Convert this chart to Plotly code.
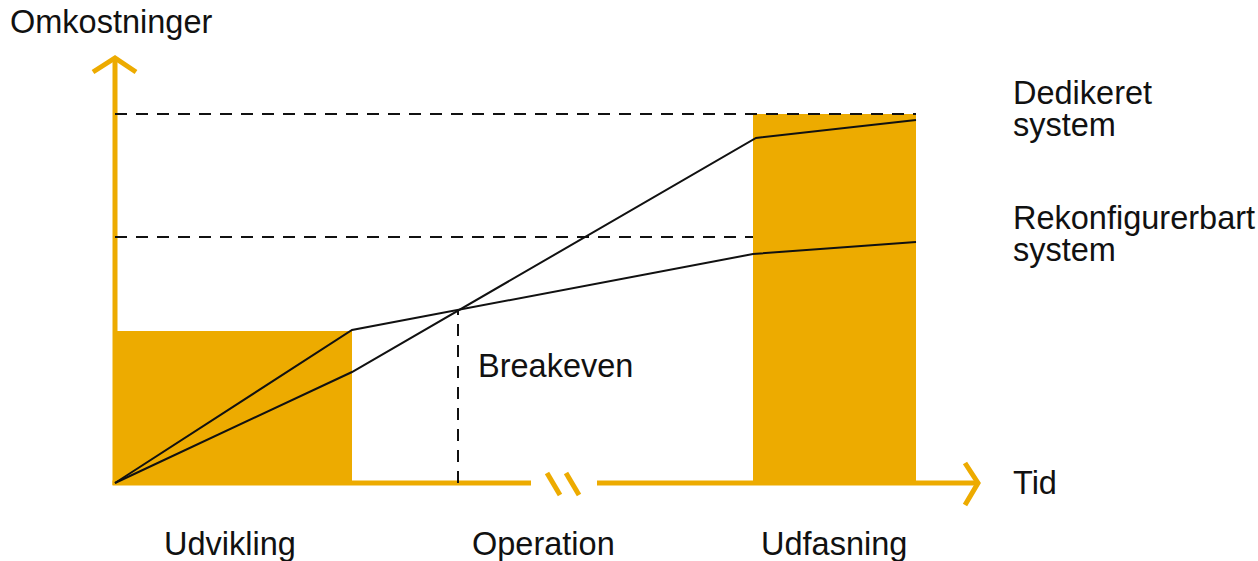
import numpy as np
import plotly.graph_objects as go

# ---- data (conceptual units: time, cost) ----
phases = ["Udvikling", "Operation", "Udfasning"]
phase_start = [0.0, 2.37, 6.38]
phase_end = [2.37, 6.38, 8.01]
phase_label_x = [1.15, 4.28, 7.19]
block_height = [1.52, None, 3.69]          # orange cost blocks (development, phase-out)

dedicated_t = [0.0, 2.37, 6.41, 8.01]
dedicated_c = [0.0, 1.11, 3.45, 3.63]
reconf_t = [0.0, 2.37, 6.38, 8.01]
reconf_c = [0.0, 1.53, 2.29, 2.41]

level_dedicated = 3.69
level_reconf = 2.46
breakeven_t = 3.43

series_names = ["Dedikeret", "system", "Rekonfigurerbart", "system"]
y_title = "Omkostninger"
x_title = "Tid"
breakeven_label = "Breakeven"

ORANGE = "#EDAB00"
BLACK = "#111111"
FONT = "Liberation Sans, Arial, sans-serif"
FS = 32.5

fig = go.Figure()

# orange blocks
bx, bw, bh = [], [], []
for s, e, h in zip(phase_start, phase_end, block_height):
    if h is not None:
        bx.append((s + e) / 2)
        bw.append(e - s)
        bh.append(h)
fig.add_trace(go.Bar(x=bx, y=bh, width=bw, base=0, marker=dict(color=ORANGE, line=dict(width=0)),
                     hoverinfo="skip"))

# axes (orange arrows)
ax_lw = 5
axis_top = 4.25
x_break = (4.16, 4.82)
x_end = 8.63
axes_segments = [
    ([0, 0], [-0.02, axis_top]),
    ([-0.22, 0, 0.21], [4.11, axis_top, 4.11]),
    ([-0.025, x_break[0]], [0, 0]),
    ([x_break[1], x_end], [0, 0]),
    ([8.50, x_end, 8.50], [0.20, 0, -0.22]),
    ([4.32, 4.45], [0.10, -0.12]),
    ([4.51, 4.64], [0.10, -0.12]),
]
for xs, ys in axes_segments:
    fig.add_trace(go.Scatter(x=xs, y=ys, mode="lines", line=dict(color=ORANGE, width=ax_lw),
                             hoverinfo="skip"))

# dashed reference lines
dash = "12px,9px"
fig.add_trace(go.Scatter(x=[0, phase_end[2]], y=[level_dedicated] * 2, mode="lines",
                         line=dict(color=BLACK, width=2, dash=dash), hoverinfo="skip"))
fig.add_trace(go.Scatter(x=[0, phase_start[2]], y=[level_reconf] * 2, mode="lines",
                         line=dict(color=BLACK, width=2, dash=dash), hoverinfo="skip"))
be_c = float(np.interp(breakeven_t, reconf_t, reconf_c))
fig.add_trace(go.Scatter(x=[breakeven_t] * 2, y=[0, be_c], mode="lines",
                         line=dict(color=BLACK, width=2, dash=dash), hoverinfo="skip"))

# cost curves
fig.add_trace(go.Scatter(x=dedicated_t, y=dedicated_c, mode="lines",
                         line=dict(color=BLACK, width=2), hoverinfo="skip"))
fig.add_trace(go.Scatter(x=reconf_t, y=reconf_c, mode="lines",
                         line=dict(color=BLACK, width=2), hoverinfo="skip"))

# texts
ann = []
def txt(x, y, s, xanchor="left"):
    ann.append(dict(x=x, y=y, xref="x", yref="y", text=s, showarrow=False, xanchor=xanchor,
                    yanchor="middle", font=dict(family=FONT, size=FS, color=BLACK)))

txt(-1.07, 4.61, y_title)
txt(8.96, 0.0, x_title)
txt(8.96, 3.90, series_names[0])
txt(8.96, 3.58, series_names[1])
txt(8.96, 2.65, series_names[2])
txt(8.96, 2.33, series_names[3])
txt(3.61, 1.17, breakeven_label)
for lx, name in zip(phase_label_x, phases):
    txt(lx, -0.61, name, xanchor="center")

fig.update_layout(
    annotations=ann,
    width=1258, height=561,
    margin=dict(l=0, r=0, t=0, b=0),
    plot_bgcolor="white", paper_bgcolor="white",
    showlegend=False,
    barmode="overlay",
    xaxis=dict(range=[-1.15, 11.43], visible=False, fixedrange=True),
    yaxis=dict(range=[-0.78, 4.83], visible=False, fixedrange=True),
)

fig.write_html("out.html", config={"displayModeBar": False},
               post_script="document.body.style.margin='0px';document.body.style.overflow='hidden';")
